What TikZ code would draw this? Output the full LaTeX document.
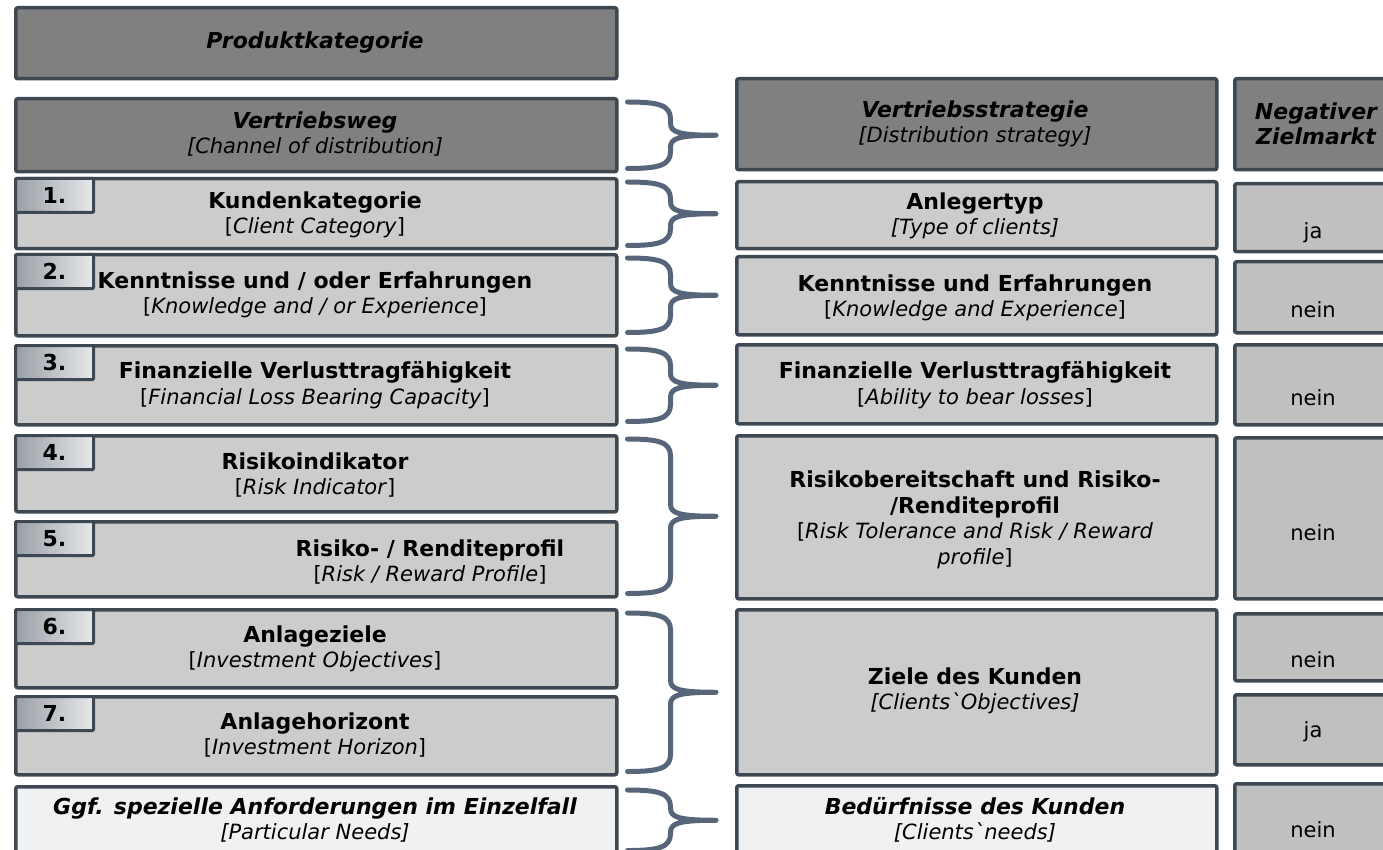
\documentclass[tikz,border=0pt]{standalone}
\usepackage{fontspec}
\setmainfont{DejaVu Sans}[Ligatures=TeXOff]
\usetikzlibrary{calc}
\definecolor{edge}{HTML}{3E4853}
\definecolor{dark}{HTML}{808080}
\definecolor{light}{HTML}{CCCCCC}
\definecolor{mid}{HTML}{C0C0C0}
\definecolor{pale}{HTML}{F0F1F3}
\definecolor{bracec}{HTML}{56657A}
\definecolor{badgeL}{HTML}{9A9FA6}
\definecolor{badgeR}{HTML}{E6E8EA}
\tikzset{
 box/.style={draw=edge, line width=3.5pt, rounded corners=2pt, inner sep=0pt, anchor=north west},
 darkbox/.style={box, fill=dark},
 lightbox/.style={box, fill=light},
 midbox/.style={box, fill=mid},
 palebox/.style={box, fill=pale},
 badge/.style={draw=edge, line width=3pt, rounded corners=1pt, left color=badgeL, right color=badgeR,
   minimum width=78pt, minimum height=34pt, inner sep=0pt, anchor=north west,
   font=\fontsize{22}{26}\selectfont\bfseries},
 txt/.style={inner sep=0pt, align=center, font=\fontsize{21}{25.5}\selectfont},
 yn/.style={inner sep=0pt, anchor=base, font=\fontsize{21}{25.5}\selectfont},
 brc/.style={draw=bracec, line width=5pt, line cap=round, line join=round},
}
\newcommand\bx[6]{\node[#6, minimum width={(#4-#2)*1pt}, minimum height={(#5-#3)*1pt}] (#1) at (#2,#3) {};}
\newcommand\hb[1]{{\fontsize{22}{25.5}\selectfont\bfseries #1}}
\newcommand\curly[3]{%
\draw[brc] let \p1=(#1.north east), \p2=(#2.south east), \p3=(#3.west),
  \p4=($(#1.north east)!0.5!(#2.south east)$) in
 (\x1+9pt,\y1-5pt) .. controls (\x1+40pt,\y1-5pt) and (\x1+52pt,\y1-8pt) .. (\x1+52pt,\y1-22pt)
 -- (\x1+52pt,\y4+12pt) .. controls (\x1+52pt,\y4+3pt) and (\x1+60pt,\y4) .. (\x3-19pt,\y4)
 .. controls (\x1+60pt,\y4) and (\x1+52pt,\y4-3pt) .. (\x1+52pt,\y4-12pt)
 -- (\x1+52pt,\y2+22pt) .. controls (\x1+52pt,\y2+8pt) and (\x1+40pt,\y2+5pt) .. (\x1+9pt,\y2+5pt);}
\begin{document}
\begin{tikzpicture}[x=1pt,y=-1pt]
\useasboundingbox (0,0) rectangle (1383,850);
\clip (0,0) rectangle (1383,850);
% left column
\bx{L0}{14}{6}{615}{77}{darkbox}
\bx{L1}{14}{97}{615}{170}{darkbox}
\bx{L2}{14}{177}{615}{247}{lightbox}
\bx{L3}{14}{253}{615}{334}{lightbox}
\bx{L4}{14}{344}{615}{423}{lightbox}
\bx{L5}{14}{434}{615}{510}{lightbox}
\bx{L6}{14}{520}{615}{595}{lightbox}
\bx{L7}{14}{608}{615}{686}{lightbox}
\bx{L8}{14}{695}{615}{773}{lightbox}
\bx{L9}{14}{785}{615}{852}{palebox}
% middle column
\bx{M1}{735}{77}{1215}{168}{darkbox}
\bx{M2}{735}{180}{1215}{247}{lightbox}
\bx{M3}{735}{255}{1215}{333}{lightbox}
\bx{M4}{735}{343}{1215}{422}{lightbox}
\bx{M5}{735}{434}{1215}{597}{lightbox}
\bx{M6}{735}{608}{1215}{773}{lightbox}
\bx{M7}{735}{784}{1215}{870}{palebox}
% right column
\bx{N1}{1233}{77}{1400}{168}{darkbox}
\bx{N2}{1233}{182}{1400}{250}{midbox}
\bx{N3}{1233}{260}{1400}{331}{midbox}
\bx{N4}{1233}{343}{1400}{423}{midbox}
\bx{N5}{1233}{436}{1400}{597}{midbox}
\bx{N6}{1233}{612}{1400}{679}{midbox}
\bx{N7}{1233}{693}{1400}{763}{midbox}
\bx{N8}{1233}{782}{1400}{870}{midbox}
% badges
\node[badge] (b1) at (L2.north west) {1.};
\node[badge] (b2) at (L3.north west) {2.};
\node[badge] (b3) at (L4.north west) {3.};
\node[badge] (b4) at (L5.north west) {4.};
\node[badge] (b5) at (L6.north west) {5.};
\node[badge] (b6) at (L7.north west) {6.};
\node[badge] (b7) at (L8.north west) {7.};
% left texts
\node[txt] (t0) at (315,43) {\hb{\itshape Produktkategorie}};
\node[txt] (t1) at (315,134) {\hb{\itshape Vertriebsweg}\\\textit{[Channel of distribution]}};
\node[txt] (t2) at (315,215) {\hb{Kundenkategorie}\\{[}\textit{Client Category}]};
\node[txt] (t3) at (315,295) {\hb{Kenntnisse und / oder Erfahrungen}\\{[}\textit{Knowledge and / or Experience}]};
\node[txt] (t4) at (315,385) {\hb{Finanzielle Verlusttragfähigkeit}\\{[}\textit{Financial Loss Bearing Capacity}]};
\node[txt] (t5) at (315,475) {\hb{Risikoindikator}\\{[}\textit{Risk Indicator}]};
\node[txt] (t6) at (430,562) {\hb{Risiko- / Renditeprofil}\\{[}\textit{Risk / Reward Profile}]};
\node[txt] (t7) at (315,649) {\hb{Anlageziele}\\{[}\textit{Investment Objectives}]};
\node[txt] (t8) at (315,735) {\hb{Anlagehorizont}\\{[}\textit{Investment Horizon}]};
\node[txt] (t9) at (315,820) {\hb{\itshape Ggf. spezielle Anforderungen im Einzelfall}\\\textit{[Particular Needs]}};
% middle texts
\node[txt] (u1) at (975,124) {\hb{\itshape Vertriebsstrategie}\\\textit{[Distribution strategy]}};
\node[txt] (u2) at (975,216) {\hb{Anlegertyp}\\\textit{[Type of clients]}};
\node[txt] (u3) at (975,298) {\hb{Kenntnisse und Erfahrungen}\\{[}\textit{Knowledge and Experience}]};
\node[txt] (u4) at (975,385) {\hb{Finanzielle Verlusttragfähigkeit}\\{[}\textit{Ability to bear losses}]};
\node[txt] (u5) at (975,520) {\hb{Risikobereitschaft und Risiko-}\\\hb{/Renditeprofil}\\{[}\textit{Risk Tolerance and Risk / Reward}\\\textit{profile}]};
\node[txt] (u6) at (975,691) {\hb{Ziele des Kunden}\\\textit{[Clients`Objectives]}};
\node[txt] (u7) at (975,820) {\hb{\itshape Bedürfnisse des Kunden}\\\textit{[Clients`needs]}};
% right texts
\node[txt] (v1) at (1316,124) {\hb{\itshape Negativer}\\\hb{\itshape Zielmarkt}};
\node[yn] (v2) at (1313,239) {ja};
\node[yn] (v3) at (1313,317) {nein};
\node[yn] (v4) at (1313,405) {nein};
\node[yn] (v5) at (1313,540) {nein};
\node[yn] (v6) at (1313,667) {nein};
\node[yn] (v7) at (1313,737) {ja};
\node[yn] (v8) at (1313,837) {nein};
% braces
\curly{L1}{L1}{M1}
\curly{L2}{L2}{M2}
\curly{L3}{L3}{M3}
\curly{L4}{L4}{M4}
\curly{L5}{L6}{M5}
\curly{L7}{L8}{M6}
\curly{L9}{L9}{M7}
\end{tikzpicture}
\end{document}
